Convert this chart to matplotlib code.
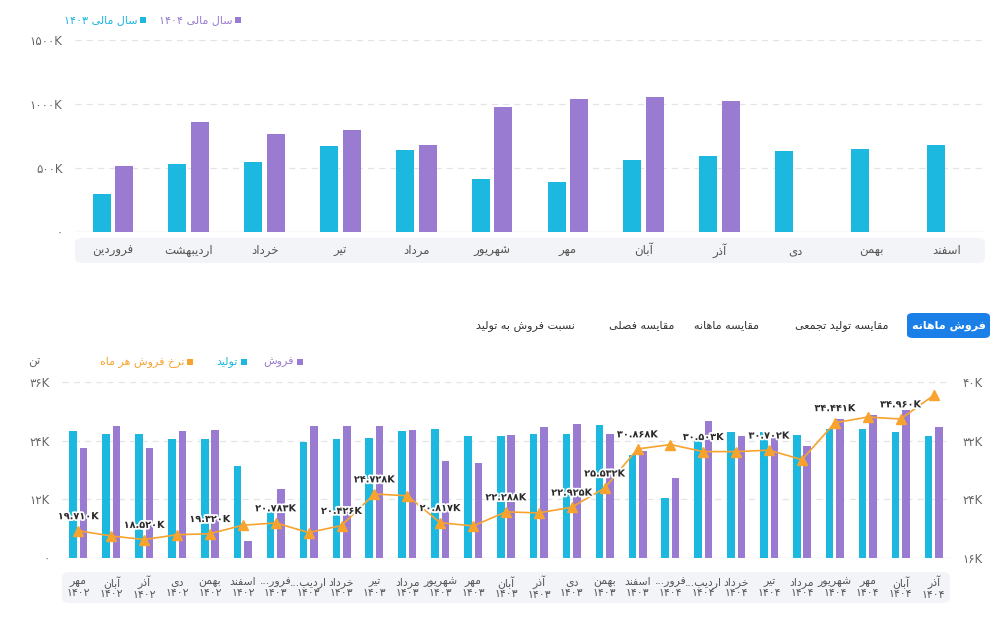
import matplotlib
matplotlib.use('Agg')
import matplotlib.pyplot as plt
from matplotlib.patches import FancyBboxPatch
import matplotlib.patheffects as pe
import numpy as np

plt.rcParams['font.family'] = ['DejaVu Sans']

# ---------------- data ----------------
months = ['فروردین', 'اردیبهشت', 'خرداد', 'تیر', 'مرداد', 'شهریور',
          'مهر', 'آبان', 'آذر', 'دی', 'بهمن', 'اسفند']
year_1403 = [293, 529, 550, 672, 643, 415, 394, 563, 593, 630, 651, 677]
year_1404 = [513, 857, 764, 794, 680, 976, 1037, 1058, 1021, np.nan, np.nan, np.nan]
top_ticks = [0, 500, 1000, 1500]

m_names = ['مهر', 'آبان', 'آذر', 'دی', 'بهمن', 'اسفند',
           'فرور...', 'اردیب...', 'خرداد', 'تیر', 'مرداد', 'شهریور',
           'مهر', 'آبان', 'آذر', 'دی', 'بهمن', 'اسفند',
           'فرور...', 'اردیب...', 'خرداد', 'تیر', 'مرداد', 'شهریور',
           'مهر', 'آبان', 'آذر']
m_years = ['1402'] * 6 + ['1403'] * 12 + ['1404'] * 9
production = [26.0, 25.4, 25.4, 24.3, 24.3, 18.8, 9.4, 23.8, 24.3, 24.5, 26.0, 26.4, 24.9,
              24.9, 25.4, 25.4, 27.2, 21.0, 12.3, 24.3, 25.8, 25.8, 25.2, 26.3, 26.3, 25.8, 24.9]
sales = [22.4, 26.9, 22.4, 26.0, 26.2, 3.5, 14.2, 27.1, 27.1, 27.1, 26.2, 19.9, 19.4,
         25.2, 26.7, 27.4, 25.4, 21.9, 16.4, 28.0, 25.0, 24.5, 23.0, 28.4, 29.3, 30.2, 26.7]
rate = [19.710, 19.0, 18.520, 19.17, 19.320, 20.47, 20.783, 19.47, 20.426, 24.728, 24.48,
        20.817, 20.37, 22.288, 22.15, 22.925, 25.532, 30.868, 31.47, 30.503, 30.51, 30.702,
        29.41, 34.441, 35.21, 34.960, 38.17]
rate_labeled = [0, 2, 4, 6, 8, 9, 11, 13, 15, 16, 17, 19, 21, 23, 25]
left_ticks = [0, 12, 24, 36]
right_ticks = [16, 24, 32, 40]

# ---------------- helpers ----------------
DUAL = set('بپتثجچحخسشصضطظعغفقکگلمنهی')
FORMS = {
    'ا': ('\uFE8D', '\uFE8E'), 'آ': ('\uFE81', '\uFE82'),
    'د': ('\uFEA9', '\uFEAA'), 'ذ': ('\uFEAB', '\uFEAC'),
    'ر': ('\uFEAD', '\uFEAE'), 'ز': ('\uFEAF', '\uFEB0'),
    'و': ('\uFEED', '\uFEEE'),
    'ب': ('\uFE8F', '\uFE90', '\uFE91', '\uFE92'),
    'ت': ('\uFE95', '\uFE96', '\uFE97', '\uFE98'),
    'ج': ('\uFE9D', '\uFE9E', '\uFE9F', '\uFEA0'),
    'خ': ('\uFEA5', '\uFEA6', '\uFEA7', '\uFEA8'),
    'س': ('\uFEB1', '\uFEB2', '\uFEB3', '\uFEB4'),
    'ش': ('\uFEB5', '\uFEB6', '\uFEB7', '\uFEB8'),
    'ص': ('\uFEB9', '\uFEBA', '\uFEBB', '\uFEBC'),
    'ع': ('\uFEC9', '\uFECA', '\uFECB', '\uFECC'),
    'ف': ('\uFED1', '\uFED2', '\uFED3', '\uFED4'),
    'ق': ('\uFED5', '\uFED6', '\uFED7', '\uFED8'),
    'ل': ('\uFEDD', '\uFEDE', '\uFEDF', '\uFEE0'),
    'م': ('\uFEE1', '\uFEE2', '\uFEE3', '\uFEE4'),
    'ن': ('\uFEE5', '\uFEE6', '\uFEE7', '\uFEE8'),
    'ه': ('\uFEE9', '\uFEEA', '\uFEEB', '\uFEEC'),
    'ی': ('\uFBFC', '\uFBFD', '\uFBFE', '\uFBFF'),
}


def shape(s):
    out = []
    n = len(s)
    for i, c in enumerate(s):
        if c not in FORMS:
            out.append(c)
            continue
        prev = s[i - 1] if i > 0 else ''
        nxt = s[i + 1] if i + 1 < n else ''
        jp = prev in DUAL
        jn = c in DUAL and nxt in FORMS
        f = FORMS[c]
        if len(f) == 2:
            out.append(f[1] if jp else f[0])
        else:
            if jp and jn:
                out.append(f[3])
            elif jp:
                out.append(f[1])
            elif jn:
                out.append(f[2])
            else:
                out.append(f[0])
    return ''.join(out)[::-1]


FA_DIG = str.maketrans('0123456789', '۰۱۲۳۴۵۶۷۸۹')


def fa(s):
    return str(s).translate(FA_DIG)


def kfmt(v):
    return fa(f'{v:.3f}') + 'K'


CYAN = '#1db8df'
PURPLE = '#9a7bd2'
ORANGE = '#f7a32e'
GRAY = '#666666'
BAND = '#f3f4f8'
GRID = '#e3e3e8'

W, H = 996, 622
fig = plt.figure(figsize=(W / 100, H / 100), dpi=100)


def px_axes(x0, x1, ytop, ybot):
    return fig.add_axes([x0 / W, (H - ybot) / H, (x1 - x0) / W, (ybot - ytop) / H])


def band(x0, x1, y0, y1):
    fig.patches.append(FancyBboxPatch((x0 / W, (H - y1) / H), (x1 - x0) / W, (y1 - y0) / H,
                                      boxstyle='round,pad=0,rounding_size=0.008',
                                      transform=fig.transFigure, facecolor=BAND,
                                      edgecolor='none', zorder=-1))


def ftext(x, y, s, **kw):
    fig.text(x / W, (H - y) / H, s, **kw)


def square(x, y, color, size=6):
    fig.patches.append(plt.Rectangle(((x - size / 2) / W, (H - y - size / 2) / H), size / W, size / H,
                                     transform=fig.transFigure, facecolor=color, edgecolor='none'))


# ---------------- top chart ----------------
ax1 = px_axes(75, 985, 40, 232)
ax1.patch.set_alpha(0)
x = np.arange(len(months))
bw = 0.237
ax1.bar(x - 0.149, year_1403, width=bw, color=CYAN, zorder=3)
ax1.bar(x + 0.149, year_1404, width=bw, color=PURPLE, zorder=3)
ax1.set_xlim(-0.5, len(months) - 0.5)
ax1.set_ylim(0, 1500)
ax1.set_yticks(top_ticks)
ax1.set_yticklabels(['۰' if t == 0 else fa(t) + 'K' for t in top_ticks])
ax1.tick_params(axis='y', length=0, pad=9, labelsize=8.5, labelcolor=GRAY)
ax1.set_xticks([])
for t in top_ticks[1:]:
    ax1.axhline(t, color=GRID, lw=0.9, ls=(0, (5, 4)), zorder=1)
ax1.axhline(0, color='#dcdce4', lw=1, zorder=2)
for s in ax1.spines.values():
    s.set_visible(False)
band(75, 985, 238, 263)
for i, m in enumerate(months):
    ax1.text(i, -0.096, shape(m), transform=ax1.get_xaxis_transform(), ha='center',
             va='center', fontsize=8.5, color='#555555')

# top legend
square(238, 20, PURPLE)
ftext(232, 20, fa('1404') + ' ' + shape('سال مالی'), ha='right', va='center',
      fontsize=8, color=PURPLE)
square(143, 20, CYAN)
ftext(137, 20, fa('1403') + ' ' + shape('سال مالی'), ha='right', va='center',
      fontsize=8, color=CYAN)

# ---------------- tabs ----------------
fig.patches.append(FancyBboxPatch((907 / W, (H - 338) / H), 83 / W, 25 / H,
                                  boxstyle='round,pad=0,rounding_size=0.006',
                                  transform=fig.transFigure, facecolor='#1a7fe6',
                                  edgecolor='none'))
ftext(948.5, 325.5, shape('فروش ماهانه'), ha='center', va='center', fontsize=8,
      color='white', fontweight='bold')
for cx, t in [(842, 'مقایسه تولید تجمعی'), (727, 'مقایسه ماهانه'),
              (642, 'مقایسه فصلی'), (525, 'نسبت فروش به تولید')]:
    ftext(cx, 325.5, shape(t), ha='center', va='center', fontsize=8, color='#333333')

# ---------------- bottom chart ----------------
ax2 = px_axes(62, 950, 382, 558)
ax2.patch.set_alpha(0)
xb = np.arange(len(m_names))
bw2 = 0.23
ax2.bar(xb - 0.16, production, width=bw2, color=CYAN, zorder=3)
ax2.bar(xb + 0.16, sales, width=bw2, color=PURPLE, zorder=3)
ax2.set_xlim(-0.5, len(m_names) - 0.5)
ax2.set_ylim(0, 36)
ax2.set_yticks(left_ticks)
ax2.set_yticklabels(['۰' if t == 0 else fa(t) + 'K' for t in left_ticks])
ax2.tick_params(axis='y', length=0, pad=9, labelsize=8.5, labelcolor=GRAY)
ax2.set_xticks([])
for t in left_ticks[1:]:
    ax2.axhline(t, color=GRID, lw=0.9, ls=(0, (5, 4)), zorder=1)
ax2.axhline(0, color='#dcdce4', lw=1, zorder=2)
for s in ax2.spines.values():
    s.set_visible(False)

ax3 = ax2.twinx()
ax3.plot(xb, rate, color=ORANGE, lw=1.2, marker='^', markersize=6.5,
         markerfacecolor=ORANGE, markeredgecolor=ORANGE, zorder=5)
ax3.set_ylim(16, 40)
ax3.set_yticks(right_ticks)
ax3.set_yticklabels([fa(t) + 'K' for t in right_ticks])
ax3.tick_params(axis='y', length=0, pad=9, labelsize=8.5, labelcolor=GRAY)
for s in ax3.spines.values():
    s.set_visible(False)
for i in rate_labeled:
    ax3.annotate(kfmt(rate[i]), (xb[i], rate[i]), xytext=(0, 10.5), textcoords='offset points',
                 ha='center', va='center', fontsize=7, fontweight='bold', color='#2a2a2a',
                 zorder=6, path_effects=[pe.withStroke(linewidth=2.5, foreground='white')])

band(62, 950, 572, 603)
for i, (m, yv) in enumerate(zip(m_names, m_years)):
    ax2.text(i, -0.168, shape(m) + '\n' + fa(yv), transform=ax2.get_xaxis_transform(),
             ha='center', va='center', fontsize=7.8, color='#555555', linespacing=1.05)

# bottom legend
square(300, 362, PURPLE)
ftext(294, 362, shape('فروش'), ha='right', va='center', fontsize=8, color=PURPLE)
square(244, 362, CYAN)
ftext(238, 362, shape('تولید'), ha='right', va='center', fontsize=8, color=CYAN)
square(190, 362, ORANGE)
ftext(184, 362, shape('نرخ فروش هر ماه'), ha='right', va='center', fontsize=8, color=ORANGE)
ftext(40, 362, shape('تن'), ha='right', va='center', fontsize=8.5, color=GRAY)

fig.savefig('out.png', dpi=100)
